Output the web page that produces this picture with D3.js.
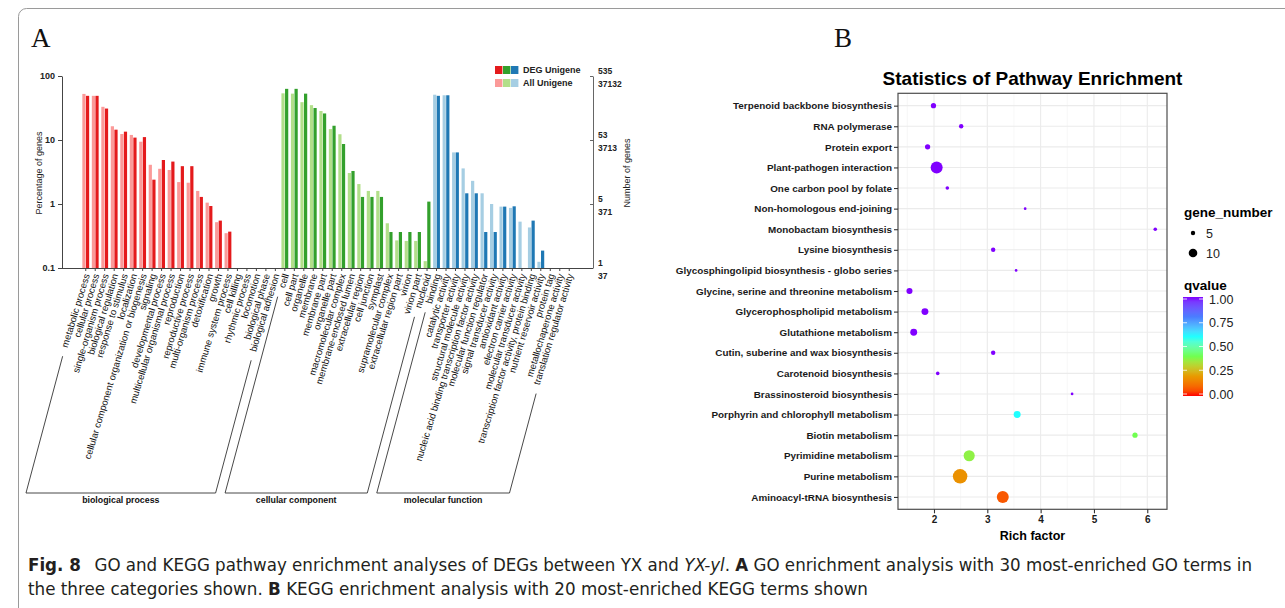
<!DOCTYPE html>
<html><head><meta charset="utf-8">
<script src="https://cdn.jsdelivr.net/npm/d3@7"></script>
<style>
html,body{margin:0;padding:0;background:#fff;}
svg{display:block;}
</style></head>
<body>
<svg id="fig" width="1285" height="608"></svg>
<script>
// ---------------- Panel A data (GO) ----------------
const bpTerms = ["metabolic process","cellular process","single-organism process","biological regulation","response to stimulus","localization","cellular component organization or biogenesis","signaling","developmental process","multicellular organismal process","reproduction","reproductive process","multi-organism process","detoxification","growth","immune system process","cell killing","rhythmic process","locomotion","biological phase","biological adhesion"];
const ccTerms = ["cell","cell part","organelle","membrane","membrane part","organelle part","macromolecular complex","membrane-enclosed lumen","extracellular region","cell junction","symplast","supramolecular complex","extracellular region part","virion","virion part","nucleoid"];
const mfTerms = ["binding","catalytic activity","transporter activity","structural molecule activity","nucleic acid binding transcription factor activity","molecular function regulator","signal transducer activity","antioxidant activity","electron carrier activity","molecular transducer activity","transcription factor activity, protein binding","nutrient reservoir activity","protein tag","metallochaperone activity","translation regulator activity"];
const groupNames = ["biological process","cellular component","molecular function"];
// percentage of genes, All Unigene (light) and DEG Unigene (dark)
const bpAll = [52.5,49,33,16.4,12.4,12,9.4,4.1,3.55,3.4,2.2,2.15,1.6,1.05,0.52,0.35,0,0,0,0,0];
const bpDeg = [49,49,31,14.5,13.5,10.9,11.1,2.4,4.87,4.6,3.9,3.9,1.29,0.93,0.55,0.37,0,0,0,0,0];
const ccAll = [53.6,53,39,35,28.4,14.8,12.3,3.05,2.05,1.6,1.6,0.5,0.27,0.265,0.265,0.128];
const ccDeg = [63,63,53,31.6,26,16.7,8.66,3.28,1.29,1.29,1.29,0.365,0.365,0.365,0.365,1.09];
const mfAll = [51,50,6.4,3.6,2.3,1.47,1.0,0.91,0.87,0.53,0.43,0.125,0,0,0];
const mfDeg = [49,50,6.4,1.47,1.47,0.365,0.365,0.91,0.92,0,0.55,0.187,0,0,0];
const pctTicks = [0.1,1,10,100];
const degTickLabels = ["1","5","53","535"];
const allTickLabels = ["37","371","3713","37132"];
const groupColors = [["#fb9a99","#e41a1c"],["#b2df8a","#33a02c"],["#a6cee3","#1f78b4"]];

// ---------------- Panel B data (KEGG) ----------------
const pathways = ["Terpenoid backbone biosynthesis","RNA polymerase","Protein export","Plant-pathogen interaction","One carbon pool by folate","Non-homologous end-joining","Monobactam biosynthesis","Lysine biosynthesis","Glycosphingolipid biosynthesis - globo series","Glycine, serine and threonine metabolism","Glycerophospholipid metabolism","Glutathione metabolism","Cutin, suberine and wax biosynthesis","Carotenoid biosynthesis","Brassinosteroid biosynthesis","Porphyrin and chlorophyll metabolism","Biotin metabolism","Pyrimidine metabolism","Purine metabolism","Aminoacyl-tRNA biosynthesis"];
const richFactor = [1.99,2.51,1.88,2.05,2.25,3.71,6.15,3.11,3.54,1.54,1.83,1.62,3.11,2.07,4.59,3.56,5.77,2.66,2.49,3.29];
const geneNumber = [6,5,6,14,4,3,4,5,3,7,8,8,5,4,3,8,6,13,17,14];
const qvalue = [1,1,1,1,1,1,1,1,1,1,1,1,1,1,1,0.6,0.4,0.37,0.18,0.07];
const richTicks = [2,3,4,5,6];
const sizeBreaks = [5,10];
const qBreaks = [0,0.25,0.5,0.75,1];

const svg = d3.select("#fig");
svg.append("rect").attr("width",1285).attr("height",608).attr("fill","#fff");
// frame
svg.append("rect").attr("x",18.5).attr("y",8.5).attr("width",1300).attr("height",700).attr("rx",8)
  .attr("fill","none").attr("stroke","#9a9a9a").attr("stroke-width",1);

svg.append("text").attr("x",31).attr("y",47).text("A")
  .attr("font-family","Liberation Serif, serif").attr("font-size",27).attr("fill","#111");
svg.append("text").attr("x",834).attr("y",47).text("B")
  .attr("font-family","Liberation Serif, serif").attr("font-size",27).attr("fill","#111");

// ================= Panel A =================
const gA = svg.append("g").attr("font-family","Liberation Sans, Arial, sans-serif");
const allTerms = bpTerms.concat(ccTerms, mfTerms);
const allVals = bpAll.concat(ccAll, mfAll);
const degVals = bpDeg.concat(ccDeg, mfDeg);
const groupOf = allTerms.map((t,i)=> i<bpTerms.length?0:(i<bpTerms.length+ccTerms.length?1:2));
const xA = d3.scaleBand().domain(allTerms).range([62,593]).paddingInner(0.28).paddingOuter(2.145);
const yA = d3.scaleLog().domain([0.1,100]).range([268,76]);
const bw = xA.bandwidth();

// bars
allTerms.forEach((t,i)=>{
  const x0 = xA(t);
  const c = groupColors[groupOf[i]];
  if(allVals[i]>0) gA.append("rect").attr("x",x0).attr("y",yA(allVals[i])).attr("width",bw/2-0.2)
    .attr("height",yA(0.1)-yA(allVals[i])).attr("fill",c[0]);
  if(degVals[i]>0) gA.append("rect").attr("x",x0+bw/2+0.2).attr("y",yA(degVals[i])).attr("width",bw/2-0.2)
    .attr("height",yA(0.1)-yA(degVals[i])).attr("fill",c[1]);
});

// left axis
const yAxisL = gA.append("g").attr("transform","translate(62,0)")
  .call(d3.axisLeft(yA).tickValues(pctTicks).tickFormat(d=>d3.format("~g")(d)).tickSize(4).tickSizeOuter(0));
yAxisL.select(".domain").attr("stroke","#444");
yAxisL.selectAll(".tick line").attr("stroke","#444");
yAxisL.selectAll("text").attr("font-size",9).attr("font-weight","bold").attr("fill","#222").attr("font-family","Liberation Sans, Arial, sans-serif");
gA.append("text").attr("transform","translate(42,173) rotate(-90)").attr("text-anchor","middle")
  .attr("font-size",9).attr("fill","#222").text("Percentage of genes");

// right axis
const yAxisR = gA.append("g").attr("transform","translate(593,0)")
  .call(d3.axisRight(yA).tickValues(pctTicks).tickFormat("").tickSize(-3).tickSizeOuter(0));
yAxisR.select(".domain").attr("stroke","#666");
yAxisR.selectAll(".tick line").attr("stroke","#666");
pctTicks.forEach((v,i)=>{
  gA.append("text").attr("x",598).attr("y",yA(v)-2).attr("font-size",8.5).attr("font-weight","bold").attr("fill","#222").text(degTickLabels[i]);
  gA.append("text").attr("x",598).attr("y",yA(v)+11).attr("font-size",8.5).attr("font-weight","bold").attr("fill","#222").text(allTickLabels[i]);
});
gA.append("text").attr("transform","translate(630,173) rotate(-90)").attr("text-anchor","middle")
  .attr("font-size",9).attr("fill","#222").text("Number of genes");

// x axis line and ticks
gA.append("line").attr("x1",62).attr("x2",593).attr("y1",268.5).attr("y2",268.5).attr("stroke","#444");
allTerms.forEach(t=>{
  const xc = xA(t)+bw/2;
  gA.append("line").attr("x1",xc).attr("x2",xc).attr("y1",268).attr("y2",271).attr("stroke","#444");
});

// category labels
const labLen = [];
allTerms.forEach((t,i)=>{
  const xc = xA(t)+bw/2;
  const tx = gA.append("text").attr("transform",`translate(${xc+1},274) rotate(-73)`)
    .attr("text-anchor","end").attr("dy","0.35em").attr("font-size",9.5).attr("fill","#111").text(t);
  labLen.push(tx.node().getComputedTextLength());
});

// group brackets
const ang = 75*Math.PI/180, la = 73*Math.PI/180;
const yBot = 493;
const groupRanges = [[0,bpTerms.length-1],[bpTerms.length,bpTerms.length+ccTerms.length-1],[bpTerms.length+ccTerms.length,allTerms.length-1]];
groupRanges.forEach((r,gi)=>{
  const xa = xA(allTerms[r[0]])+bw/2, xb = xA(allTerms[r[1]])+bw/2;
  const topA = 274 + labLen[r[0]]*Math.sin(la) + 9;
  const topB = 274 + labLen[r[1]]*Math.sin(la) + 9;
  const xAt = (xc,y)=> xc - (y-270)/Math.tan(ang);
  const p = d3.path();
  p.moveTo(xAt(xa,topA), topA); p.lineTo(xAt(xa,yBot), yBot);
  p.lineTo(xAt(xb,yBot), yBot); p.lineTo(xAt(xb,topB), topB);
  gA.append("path").attr("d",p.toString()).attr("fill","none").attr("stroke","#333").attr("stroke-width",0.9);
  gA.append("text").attr("x",(xAt(xa,yBot)+xAt(xb,yBot))/2).attr("y",503).attr("text-anchor","middle")
    .attr("font-size",8.8).attr("font-weight","bold").attr("fill","#111").text(groupNames[gi]);
});

// legend
const legRows = [["DEG Unigene",1],["All Unigene",0]];
legRows.forEach((r,ri)=>{
  groupColors.forEach((c,ci)=>{
    gA.append("rect").attr("x",495+ci*8).attr("y",66+ri*13).attr("width",7.4).attr("height",8).attr("fill",c[r[1]]);
  });
  gA.append("text").attr("x",523).attr("y",73+ri*13).attr("font-size",9).attr("font-weight","bold").attr("fill","#222").text(r[0]);
});

// ================= Panel B =================
const gB = svg.append("g").attr("font-family","Liberation Sans, Arial, sans-serif");
const pL=898, pR=1167, pT=93.3, pBt=509.3;
const xB = d3.scaleLinear().domain([1.325,6.37]).range([pL,pR]);
const yB = d3.scalePoint().domain(pathways).range([pT,pBt]).padding(0.6);
const rB = d3.scaleLinear().domain([0,17]).range([0.1,7.24]);
const qStops = [0,0.2,0.4,0.6,0.8,1];
const qCols = ["#ff0000","#e89a00","#70ff50","#20ffff","#4a7dff","#8000ff"];
const cB = d3.scaleLinear().domain(qStops).range(qCols).interpolate(d3.interpolateLab);

gB.append("rect").attr("x",pL).attr("y",pT).attr("width",pR-pL).attr("height",pBt-pT).attr("fill","#fff");
// minor grid
d3.range(1.5,6.5,1).forEach(v=>{
  gB.append("line").attr("x1",xB(v)).attr("x2",xB(v)).attr("y1",pT).attr("y2",pBt).attr("stroke","#f2f2f2").attr("stroke-width",0.6);
});
richTicks.forEach(v=>{
  gB.append("line").attr("x1",xB(v)).attr("x2",xB(v)).attr("y1",pT).attr("y2",pBt).attr("stroke","#ebebeb").attr("stroke-width",1.1);
});
pathways.forEach(p=>{
  gB.append("line").attr("x1",pL).attr("x2",pR).attr("y1",yB(p)).attr("y2",yB(p)).attr("stroke","#ebebeb").attr("stroke-width",1.1);
});
// points
pathways.forEach((p,i)=>{
  gB.append("circle").attr("cx",xB(richFactor[i])).attr("cy",yB(p)).attr("r",rB(geneNumber[i])).attr("fill",cB(qvalue[i]));
});
gB.append("rect").attr("x",pL).attr("y",pT).attr("width",pR-pL).attr("height",pBt-pT)
  .attr("fill","none").attr("stroke","#4d4d4d").attr("stroke-width",1.2);

// axes
const axL = gB.append("g").attr("transform",`translate(${pL},0)`).call(d3.axisLeft(yB).tickSize(4).tickPadding(2));
axL.select(".domain").remove();
axL.selectAll(".tick line").attr("stroke","#333").attr("stroke-width",1.1);
axL.selectAll("text").attr("font-size",9.9).attr("font-weight","bold").attr("fill","#1a1a1a").attr("font-family","Liberation Sans, Arial, sans-serif");
const axB = gB.append("g").attr("transform",`translate(0,${pBt})`).call(d3.axisBottom(xB).tickValues(richTicks).tickFormat(d3.format("d")).tickSize(4).tickPadding(3));
axB.select(".domain").remove();
axB.selectAll(".tick line").attr("stroke","#333").attr("stroke-width",1.1);
axB.selectAll("text").attr("font-size",10).attr("font-weight","bold").attr("fill","#1a1a1a").attr("font-family","Liberation Sans, Arial, sans-serif");

gB.append("text").attr("x",(pL+pR)/2).attr("y",85).attr("text-anchor","middle").attr("font-size",19)
  .attr("font-weight","bold").attr("fill","#000").text("Statistics of Pathway Enrichment");
gB.append("text").attr("x",(pL+pR)/2).attr("y",540).attr("text-anchor","middle").attr("font-size",12.5)
  .attr("font-weight","bold").attr("fill","#000").text("Rich factor");

// size legend
gB.append("text").attr("x",1184).attr("y",217).attr("font-size",13.5).attr("font-weight","bold").attr("fill","#000").text("gene_number");
sizeBreaks.forEach((s,i)=>{
  gB.append("circle").attr("cx",1193).attr("cy",233+i*20).attr("r",rB(s)).attr("fill","#000");
  gB.append("text").attr("x",1206).attr("y",237.5+i*20).attr("font-size",12.5).attr("fill","#222").text(s);
});
// colour legend
gB.append("text").attr("x",1184).attr("y",290).attr("font-size",13.5).attr("font-weight","bold").attr("fill","#000").text("qvalue");
const defs = svg.append("defs");
const grad = defs.append("linearGradient").attr("id","qgrad").attr("x1",0).attr("y1",1).attr("x2",0).attr("y2",0);
d3.range(0,1.0001,0.05).forEach(v=>{
  grad.append("stop").attr("offset",v).attr("stop-color",cB(v));
});
const cbT=297, cbB=396, cbL=1183, cbW=20;
gB.append("rect").attr("x",cbL).attr("y",cbT).attr("width",cbW).attr("height",cbB-cbT).attr("fill","url(#qgrad)");
const yQ = d3.scaleLinear().domain([0,1]).range([cbB-2,cbT+2]);
qBreaks.forEach(v=>{
  gB.append("line").attr("x1",cbL).attr("x2",cbL+4).attr("y1",yQ(v)).attr("y2",yQ(v)).attr("stroke","#fff").attr("stroke-width",0.8);
  gB.append("line").attr("x1",cbL+cbW-4).attr("x2",cbL+cbW).attr("y1",yQ(v)).attr("y2",yQ(v)).attr("stroke","#fff").attr("stroke-width",0.8);
  gB.append("text").attr("x",1209).attr("y",yQ(v)+4.5).attr("font-size",12.5).attr("fill","#222").text(d3.format(".2f")(v));
});

// ================= Caption =================
const cap = svg.append("g").attr("font-family","Liberation Sans Narrow, DejaVu Sans Condensed, Liberation Sans, sans-serif").attr("fill","#231f20").attr("font-size",17);
const l1 = cap.append("text").attr("x",28).attr("y",571).attr("textLength",1224).attr("lengthAdjust","spacingAndGlyphs");
l1.append("tspan").attr("font-weight","bold").text("Fig. 8");
l1.append("tspan").text("\u2002 GO and KEGG pathway enrichment analyses of DEGs between YX and ");
l1.append("tspan").attr("font-style","italic").text("YX-yl");
l1.append("tspan").text(". ");
l1.append("tspan").attr("font-weight","bold").text("A");
l1.append("tspan").text(" GO enrichment analysis with 30 most-enriched GO terms in");
const l2 = cap.append("text").attr("x",28).attr("y",595).attr("textLength",840).attr("lengthAdjust","spacingAndGlyphs");
l2.append("tspan").text("the three categories shown. ");
l2.append("tspan").attr("font-weight","bold").text("B");
l2.append("tspan").text(" KEGG enrichment analysis with 20 most-enriched KEGG terms shown");
</script>
</body></html>
